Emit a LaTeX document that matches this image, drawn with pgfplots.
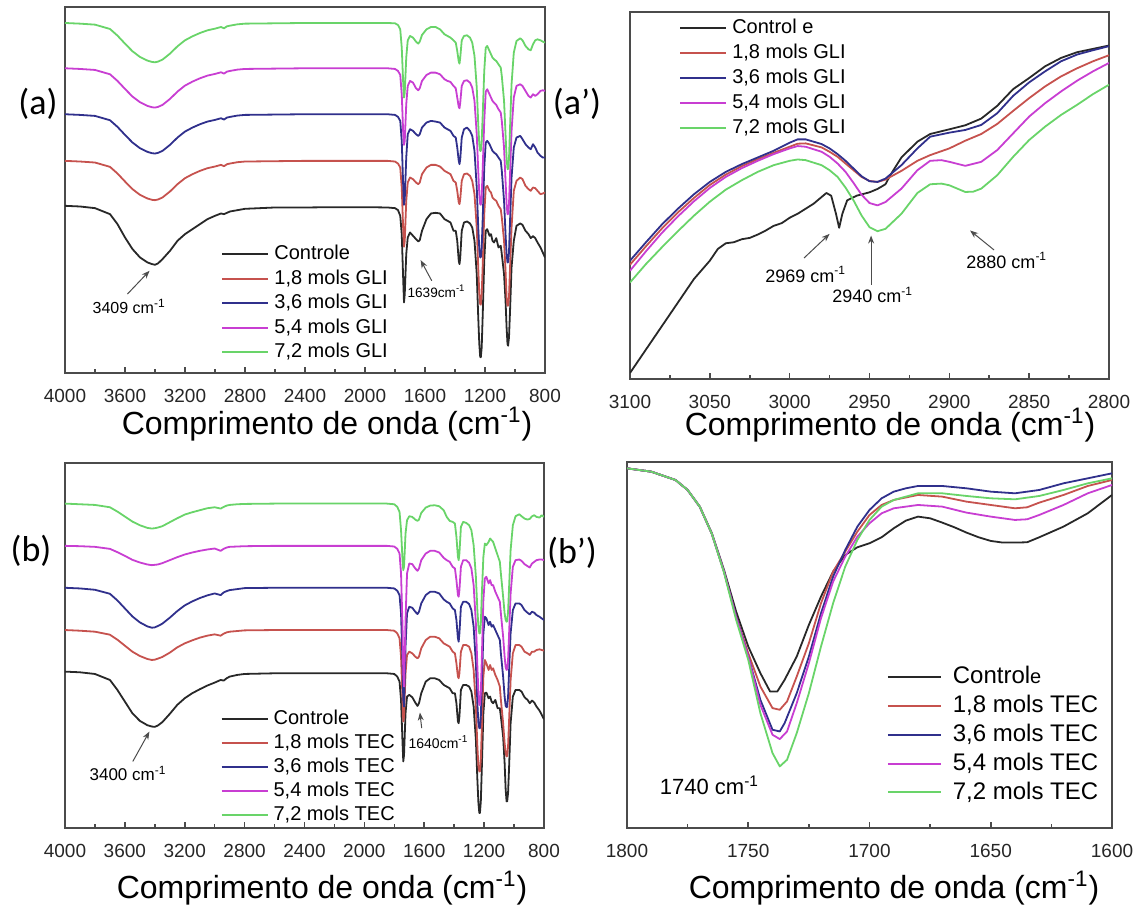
\documentclass[border=0pt]{standalone}
\usepackage{fontspec}
\setmainfont{Liberation Sans}
\newfontfamily\calib{Carlito}
\usepackage{pgfplots}
\pgfplotsset{compat=1.18}
\usepackage{pgfplotstable}
\usetikzlibrary{arrows.meta}

\definecolor{cctrl}{RGB}{40,40,40}
\definecolor{c18}{RGB}{198,82,78}
\definecolor{c36}{RGB}{48,48,140}
\definecolor{c54}{RGB}{200,62,210}
\definecolor{c72}{RGB}{105,212,105}
\definecolor{framec}{RGB}{75,75,75}

% y values: positions (a.u., grow downward)
\pgfplotstableread{
wn   c    r    b    m    g
4000 615 480 340 202 66
3900 617 482 342 204 68
3800 622 485 345 207 71
3700 640 498 358 220 84
3650 670 518 378 240 104
3600 710 542 402 264 128
3550 745 565 425 287 151
3500 770 582 442 304 168
3450 785 593 453 315 179
3420 790 597 457 319 183
3400 792 598 458 320 184
3380 788 596 456 318 182
3350 775 590 450 312 176
3300 750 572 432 294 158
3250 720 550 410 272 136
3200 700 532 392 254 118
3150 685 520 380 242 106
3100 670 510 370 232 96
3050 655 502 362 224 88
3000 645 497 357 219 83
2960 638 492 352 214 78
2940 640 496 356 218 82
2920 636 490 350 212 76
2900 632 488 348 210 74
2850 628 484 344 206 70
2800 624 482 342 204 68
2600 620 481 341 203 67
2400 620 480 340 202 66
2200 619 480 340 202 66
2000 619 480 340 202 66
1850 620 480 340 202 66
1800 622 482 342 204 67
1780 628 488 348 210 72
1765 645 500 360 222 85
1755 700 560 420 280 140
1745 840 690 560 400 250
1740 905 738 612 432 290
1735 880 720 595 420 275
1725 760 600 470 310 170
1715 710 545 400 255 118
1700 695 530 385 240 105
1680 705 535 390 245 110
1660 715 545 400 262 122
1645 722 550 405 268 128
1635 718 545 400 262 122
1620 690 520 380 240 102
1590 655 500 365 222 85
1560 638 492 360 215 78
1530 636 492 362 215 78
1500 638 497 365 220 85
1470 655 510 380 235 100
1450 660 515 385 240 105
1430 665 520 390 243 110
1410 690 540 405 255 118
1395 690 545 410 262 125
1385 720 570 440 290 150
1375 780 605 480 318 182
1370 790 610 490 322 188
1365 770 595 475 305 170
1355 690 540 410 255 118
1340 665 520 385 240 105
1320 662 518 380 238 103
1300 668 525 390 245 110
1285 680 540 405 260 125
1270 720 580 450 300 165
1255 820 680 560 400 260
1245 950 800 680 510 370
1238 1030 880 745 580 430
1232 1068 910 770 610 450
1228 1070 912 770 612 450
1222 1040 880 740 585 420
1215 940 790 650 500 340
1205 780 640 500 360 210
1195 690 560 425 272 140
1185 685 555 420 265 135
1170 705 570 430 280 150
1160 700 575 440 290 160
1150 720 590 450 300 170
1140 725 595 455 305 175
1125 712 600 460 312 180
1110 740 615 470 325 190
1095 735 625 480 335 200
1088 760 650 510 360 225
1073 820 720 600 440 300
1063 900 810 700 540 400
1056 980 890 760 610 470
1050 1030 915 785 640 505
1046 1035 915 785 640 505
1040 1010 890 755 610 475
1033 930 800 660 520 380
1023 800 680 530 390 250
1008 720 570 440 290 155
990 675 540 410 255 120
965 668 530 405 250 112
950 672 535 415 255 118
930 690 555 430 270 135
910 700 565 440 285 145
895 712 570 445 290 148
880 706 560 430 280 130
865 712 562 440 285 118
850 725 570 455 280 115
830 740 580 465 270 118
815 755 578 470 268 122
800 770 575 470 270 125
}\tabA

\pgfplotstableread{
wn   c    r    b    m    g
4000 635 510 383 257 130
3900 637 512 385 258 132
3800 642 515 389 260 134
3700 660 524 401 266 141
3650 690 539 421 276 154
3600 725 557 445 287 169
3550 760 575 469 299 184
3500 783 588 487 307 195
3450 796 597 499 313 203
3420 800 600 503 315 205
3400 801 599 502 314 204
3380 797 596 498 313 202
3350 787 591 491 309 198
3300 762 578 473 300 186
3250 735 562 453 291 174
3200 715 550 436 283 163
3150 700 541 424 277 156
3100 688 533 414 272 150
3050 677 527 406 268 144
3000 668 523 400 265 141
2960 660 527 405 272 145
2940 662 521 397 266 140
2920 655 517 393 262 136
2900 650 515 390 260 134
2850 645 513 387 259 132
2800 642 511 384 258 131
2600 640 510 383 257 130
2400 640 510 383 257 130
2200 640 510 383 257 130
2000 640 510 383 257 130
1850 640 510 383 257 130
1800 642 512 385 259 132
1780 650 520 392 266 140
1765 665 535 405 280 155
1755 720 590 460 340 210
1745 850 720 610 500 300
1740 905 785 720 640 330
1735 885 770 740 680 320
1725 760 640 560 480 220
1715 710 585 460 340 180
1700 705 575 440 310 168
1680 712 580 443 312 170
1660 728 590 455 325 178
1645 738 595 462 332 182
1635 730 590 455 325 178
1620 700 565 430 300 158
1590 665 540 405 280 142
1560 655 530 395 272 136
1530 655 530 395 272 135
1500 660 535 400 277 138
1470 675 550 418 293 150
1450 680 555 425 300 170
1430 685 560 430 305 182
1410 700 575 445 320 185
1395 700 580 450 325 190
1385 730 610 480 360 230
1375 785 650 535 405 290
1370 790 655 545 410 300
1365 770 640 520 390 280
1355 690 575 440 320 200
1340 675 555 425 300 185
1320 675 555 425 300 188
1300 680 560 432 308 195
1285 695 580 450 325 210
1270 740 630 500 375 255
1255 840 740 610 490 350
1245 960 860 730 620 450
1238 1030 920 790 700 500
1232 1060 935 805 735 520
1228 1060 935 805 735 520
1222 1025 900 770 700 490
1215 920 800 670 590 400
1205 760 650 520 420 290
1195 700 600 470 355 250
1185 698 610 475 350 255
1170 715 630 495 370 245
1160 710 615 485 360 235
1150 725 630 500 375 240
1140 730 625 495 375 245
1125 720 645 510 395 265
1110 745 660 525 410 285
1095 745 680 540 425 305
1088 770 720 580 460 340
1073 830 790 650 530 410
1063 910 850 710 590 460
1056 990 880 738 622 480
1050 1025 890 742 630 485
1046 1025 888 740 628 483
1040 1000 860 710 600 455
1033 920 780 630 520 380
1023 790 660 520 400 270
1008 710 580 450 320 195
990 690 555 430 300 168
965 690 555 430 298 162
950 695 560 435 302 168
930 712 575 450 312 175
910 720 580 458 318 178
895 730 585 463 322 176
880 722 575 455 310 168
865 728 575 458 305 165
850 740 570 465 300 170
830 752 568 470 298 172
815 765 570 475 298 165
800 778 572 480 300 170
}\tabB

\tikzset{ann/.style={draw=black!70, line width=0.5pt, -{Stealth[length=4pt,width=3pt]}}}

\pgfplotsset{
  ftir/.style={
    scale only axis, x dir=reverse, y dir=reverse,
    axis line style={draw=framec, line width=1pt},
    ytick=\empty, xtick pos=bottom, xtick align=inside,
    minor x tick num=1,
    major tick length=3pt, minor tick length=1.8pt,
    every tick/.style={framec, line width=0.8pt},
    tick label style={font=\fontsize{9.5}{10}\selectfont, text=black!85},
    xticklabel style={yshift=-4.5pt},
    /pgf/number format/1000 sep={},
    /pgf/number format/assume math mode=true,
    every axis plot/.append style={line width=0.9pt, line join=round},
    legend cell align=left,
    legend image code/.code={\draw[##1, line width=1pt] (0pt,0pt) -- (23pt,0pt);},
    legend style={draw=none, fill=none, inner sep=0pt, row sep=1.75pt,
      nodes={inner sep=0.5pt, text height=7.5pt, text depth=2pt},
      font=\fontsize{10}{12}\selectfont, column sep=2pt},
  },
}

\begin{document}
\begin{tikzpicture}
\path[use as bounding box] (0pt,0pt) rectangle (570pt,-454pt);

% (a)
\begin{axis}[ftir, at={(32.5pt,-186.5pt)}, anchor=south west,
  width=240pt, height=183pt, xmin=800, xmax=4000, ymin=18, ymax=1117,
  xtick={800,1200,...,4000},
  legend style={at={(axis description cs:0.325,0.354)}, anchor=north west}]
\addplot[cctrl] table[x=wn,y=c] {\tabA}; \addlegendentry{Controle}
\addplot[c18] table[x=wn,y=r] {\tabA}; \addlegendentry{1,8 mols GLI}
\addplot[c36] table[x=wn,y=b] {\tabA}; \addlegendentry{3,6 mols GLI}
\addplot[c54] table[x=wn,y=m] {\tabA}; \addlegendentry{5,4 mols GLI}
\addplot[c72] table[x=wn,y=g] {\tabA}; \addlegendentry{7,2 mols GLI}
\draw[ann] (axis cs:3584,880) -- (axis cs:3436,810);
\node[font=\fontsize{8}{9}\selectfont] at (axis cs:3572,918) {3409 cm\textsuperscript{-1}};
\draw[ann] (axis cs:1555,840) -- (axis cs:1629,778);
\node[font=\fontsize{6.8}{8}\selectfont] at (axis cs:1523,872) {1639cm\textsuperscript{-1}};
\end{axis}

% (a')
\begin{axis}[ftir, at={(315pt,-189.5pt)}, anchor=south west,
  width=239.5pt, height=183.5pt, xmin=2800, xmax=3100, ymin=38, ymax=1133,
  xtick={2800,2850,...,3100},
  legend style={at={(axis description cs:0.102,0.987)}, anchor=north west, row sep=2pt}]
\addplot[cctrl] coordinates {(3100,1115) (3090,1045) (3080,975) (3070,905) (3060,835)
 (3050,780) (3045,745) (3040,728) (3035,725) (3030,716) (3025,712) (3020,702) (3015,690)
 (3010,676) (3005,668) (3000,652) (2995,640) (2990,625) (2985,610) (2980,590) (2977,578)
 (2974,586) (2971,640) (2969,682) (2967,640) (2964,600) (2958,586) (2950,576) (2945,566)
 (2940,552) (2937,525) (2930,472) (2920,425) (2912,402) (2900,388) (2890,376) (2880,356)
 (2870,318) (2860,268) (2850,235) (2840,200) (2830,175) (2820,158) (2810,148) (2800,138)};
\addlegendentry{Control e}
\addplot[c18] coordinates {(3100,792) (3090,737) (3080,684) (3070,636) (3060,593) (3050,554)
 (3040,523) (3030,498) (3020,477) (3010,458) (3000,440) (2995,431) (2990,430) (2980,442)
 (2975,455) (2970,470) (2965,490) (2960,510) (2955,530) (2950,542) (2945,545) (2940,538)
 (2930,512) (2920,482) (2912,465) (2900,445) (2890,422) (2880,402) (2870,372) (2860,333)
 (2850,295) (2840,260) (2830,230) (2820,206) (2810,185) (2800,167)};
\addlegendentry{1,8 mols GLI}
\addplot[c36] coordinates {(3100,780) (3090,725) (3080,672) (3070,625) (3060,582) (3050,545)
 (3040,515) (3030,492) (3020,472) (3010,452) (3000,428) (2995,418) (2990,418) (2980,432)
 (2975,445) (2970,462) (2965,482) (2960,505) (2955,528) (2950,543) (2945,545) (2940,535)
 (2930,495) (2920,445) (2912,410) (2900,398) (2890,390) (2880,375) (2870,340) (2860,288)
 (2850,248) (2840,215) (2830,185) (2820,165) (2810,152) (2800,140)};
\addlegendentry{3,6 mols GLI}
\addplot[c54] coordinates {(3100,810) (3090,752) (3080,697) (3070,648) (3060,603) (3050,563)
 (3040,530) (3030,504) (3020,482) (3010,462) (3000,445) (2995,438) (2990,440) (2980,455)
 (2975,470) (2970,490) (2965,515) (2960,548) (2955,583) (2950,608) (2945,615) (2940,605)
 (2930,565) (2920,510) (2912,482) (2905,480) (2900,485) (2890,497) (2880,485) (2870,450)
 (2860,400) (2850,350) (2840,310) (2830,275) (2820,243) (2810,215) (2800,190)};
\addlegendentry{5,4 mols GLI}
\addplot[c72] coordinates {(3100,845) (3090,790) (3080,740) (3070,692) (3060,646) (3050,604)
 (3040,568) (3030,540) (3020,515) (3010,495) (3000,482) (2995,478) (2990,480) (2980,495)
 (2975,510) (2970,530) (2965,562) (2960,600) (2955,645) (2950,680) (2945,692) (2940,685)
 (2930,640) (2920,578) (2912,552) (2905,550) (2900,555) (2890,575) (2885,574) (2880,565)
 (2870,525) (2860,470) (2850,420) (2840,380) (2830,345) (2820,315) (2810,283) (2800,255)};
\addlegendentry{7,2 mols GLI}
\draw[ann] (axis cs:2991,772) -- (axis cs:2975,700);
\node[font=\fontsize{9}{10}\selectfont] at (axis cs:2990,822) {2969 cm\textsuperscript{-1}};
\draw[ann] (axis cs:2949,852) -- (axis cs:2949,705);
\node[font=\fontsize{9}{10}\selectfont] at (axis cs:2948,882) {2940 cm\textsuperscript{-1}};
\draw[ann] (axis cs:2872,748) -- (axis cs:2887,690);
\node[font=\fontsize{9}{10}\selectfont] at (axis cs:2864,780) {2880 cm\textsuperscript{-1}};
\end{axis}

% (b)
\begin{axis}[ftir, at={(32.5pt,-414pt)}, anchor=south west,
  width=239.5pt, height=182.5pt, xmin=800, xmax=4000, ymin=8, ymax=1105,
  xtick={800,1200,...,4000},
  legend style={at={(axis description cs:0.324,0.329)}, anchor=north west, row sep=1.5pt}]
\addplot[cctrl] table[x=wn,y=c] {\tabB}; \addlegendentry{Controle}
\addplot[c18] table[x=wn,y=r] {\tabB}; \addlegendentry{1,8 mols TEC}
\addplot[c36] table[x=wn,y=b] {\tabB}; \addlegendentry{3,6 mols TEC}
\addplot[c54] table[x=wn,y=m] {\tabB}; \addlegendentry{5,4 mols TEC}
\addplot[c72] table[x=wn,y=g] {\tabB}; \addlegendentry{7,2 mols TEC}
\draw[ann] (axis cs:3547,905) -- (axis cs:3436,815);
\node[font=\fontsize{8.5}{9}\selectfont] at (axis cs:3579,942) {3400 cm\textsuperscript{-1}};
\draw[ann] (axis cs:1617,805) -- (axis cs:1629,758);
\node[font=\fontsize{7}{8}\selectfont] at (axis cs:1505,848) {1640cm\textsuperscript{-1}};
\end{axis}

% (b')
\begin{axis}[ftir, at={(313.5pt,-414pt)}, anchor=south west,
  width=242.5pt, height=183pt, xmin=1600, xmax=1800, ymin=6, ymax=1105,
  xtick={1600,1650,...,1800},
  legend image code/.code={\draw[#1, line width=1pt] (0pt,0pt) -- (26.5pt,0pt);},
  legend style={at={(axis description cs:0.535,0.447)}, anchor=north west,
    font=\fontsize{12}{14}\selectfont, row sep=2pt, column sep=5pt,
    nodes={inner sep=0.5pt, text height=9pt, text depth=2.4pt}}]
\addplot[cctrl] coordinates {(1800,25) (1790,35) (1780,60) (1775,90) (1770,140) (1765,220)
 (1760,330) (1755,455) (1750,560) (1745,640) (1741,695) (1738,695) (1735,660) (1730,590)
 (1725,495) (1720,410) (1715,335) (1710,285) (1705,262) (1700,250) (1695,232) (1690,205)
 (1685,182) (1680,170) (1675,175) (1670,188) (1665,202) (1660,218) (1655,232) (1650,243)
 (1645,248) (1640,248) (1635,247) (1630,232) (1620,200) (1610,160) (1600,105)};
\addlegendentry{Control{\fontsize{10}{12}\selectfont e}}
\addplot[c18] coordinates {(1800,25) (1790,35) (1780,60) (1775,90) (1770,140) (1765,222)
 (1760,335) (1755,470) (1750,580) (1745,680) (1740,745) (1737,750) (1734,725) (1730,650)
 (1725,550) (1720,430) (1715,335) (1710,275) (1705,215) (1700,165) (1695,135) (1690,120)
 (1680,105) (1670,110) (1660,125) (1650,135) (1640,145) (1635,142) (1630,128) (1620,105)
 (1610,78) (1600,60)};
\addlegendentry{1,8 mols TEC}
\addplot[c36] coordinates {(1800,25) (1790,35) (1780,60) (1775,90) (1770,140) (1765,222)
 (1760,335) (1755,470) (1750,590) (1745,720) (1740,810) (1737,815) (1735,790) (1730,700)
 (1725,590) (1720,460) (1715,350) (1710,270) (1705,200) (1700,150) (1695,115) (1690,95)
 (1685,85) (1680,78) (1670,78) (1660,85) (1650,95) (1640,100) (1630,90) (1620,70)
 (1610,55) (1600,40)};
\addlegendentry{3,6 mols TEC}
\addplot[c54] coordinates {(1800,25) (1790,35) (1780,60) (1775,90) (1770,140) (1765,222)
 (1760,335) (1755,472) (1750,590) (1745,735) (1740,825) (1737,838) (1734,815) (1730,730)
 (1725,610) (1720,475) (1715,365) (1710,290) (1705,230) (1700,190) (1695,160) (1690,145)
 (1680,135) (1670,140) (1660,158) (1650,170) (1640,180) (1635,178) (1630,165) (1620,135)
 (1610,100) (1600,75)};
\addlegendentry{5,4 mols TEC}
\addplot[c72] coordinates {(1800,25) (1790,35) (1780,60) (1775,90) (1770,140) (1765,222)
 (1760,338) (1755,480) (1750,600) (1745,760) (1740,880) (1737,920) (1734,900) (1730,820)
 (1725,700) (1720,560) (1715,430) (1710,320) (1705,240) (1700,180) (1695,140) (1690,120)
 (1680,100) (1670,100) (1660,108) (1650,115) (1640,118) (1630,108) (1620,90) (1610,70)
 (1600,55)};
\addlegendentry{7,2 mols TEC}
\node[font=\fontsize{11}{12}\selectfont] at (axis cs:1766,978) {1740 cm\textsuperscript{-1}};
\end{axis}

% axis labels and panel letters
\node[font=\fontsize{16}{18}\selectfont] at (163.5pt,-212pt) {Comprimento de onda (cm\textsuperscript{-1})};
\node[font=\fontsize{16}{18}\selectfont] at (445pt,-212.5pt) {Comprimento de onda (cm\textsuperscript{-1})};
\node[font=\fontsize{16}{18}\selectfont] at (161pt,-444pt) {Comprimento de onda (cm\textsuperscript{-1})};
\node[font=\fontsize{16}{18}\selectfont] at (447pt,-444pt) {Comprimento de onda (cm\textsuperscript{-1})};
\node[font=\calib\fontsize{18}{20}\selectfont] at (19pt,-52pt) {(a)};
\node[font=\calib\fontsize{18}{20}\selectfont] at (288.5pt,-52pt) {(a’)};
\node[font=\calib\fontsize{18}{20}\selectfont] at (15.5pt,-275.5pt) {(b)};
\node[font=\calib\fontsize{18}{20}\selectfont] at (286pt,-276.5pt) {(b’)};
\end{tikzpicture}
\end{document}
